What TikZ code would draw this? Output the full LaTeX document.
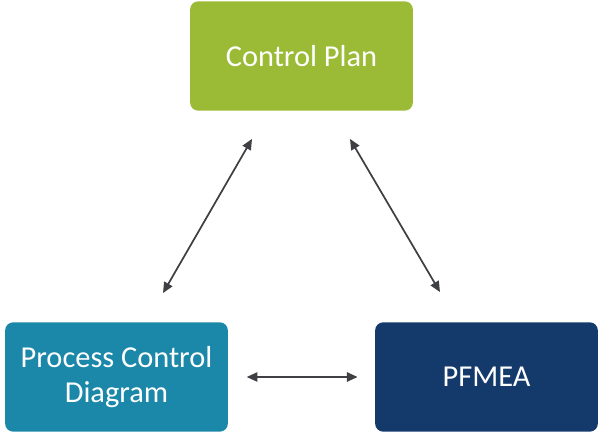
\documentclass[tikz,border=0pt]{standalone}
\usepackage{fontspec}
\setmainfont{Carlito}
\usepackage{xcolor}
\usepackage{tikz}
\usetikzlibrary{positioning,arrows.meta,calc}
\definecolor{planGreen}{HTML}{9BBB36}
\definecolor{pcdTeal}{HTML}{1B87A9}
\definecolor{fmeaNavy}{HTML}{14396B}
\definecolor{linkGray}{HTML}{3F4044}

\begin{document}
\begin{tikzpicture}[
  x=0.75pt,y=-0.75pt,
  font=\fontsize{22.8pt}{26pt}\selectfont,
  >={Triangle[length=8pt,width=7pt]},
  dbox/.style  ={draw=none,rounded corners=6pt,text=white,align=center,
                 minimum width=167pt,minimum height=82pt,inner sep=0pt},
  link/.style  ={<->,line width=1.3pt,draw=linkGray},
]

% frame of the picture (600 x 434 px)
\useasboundingbox (0,0) rectangle (600,434);

% ===================== the three documents ===============================
\node[dbox,fill=planGreen] (CP) at (301.5,56)  {Control Plan};
\node[dbox,fill=pcdTeal]   (PC) at (116.5,377) {Process Control\\Diagram};
\node[dbox,fill=fmeaNavy]  (PF) at (486.5,377) {PFMEA};

% ===================== links between them ================================
% free ends sit a little off the box edges
\coordinate (CPl) at ($(CP.south)+(-49.5,28)$);
\coordinate (CPr) at ($(CP.south)+(48.5,28)$);
\coordinate (PCt) at ($(PC.north)+(46.5,-29)$);
\coordinate (PFt) at ($(PF.north)+(-46.5,-30)$);

\draw[link] (CPl) -- (PCt);
\draw[link] (CPr) -- (PFt);
\draw[link,shorten <=14pt,shorten >=13pt] (PC.east) -- (PF.west);

\end{tikzpicture}
\end{document}
